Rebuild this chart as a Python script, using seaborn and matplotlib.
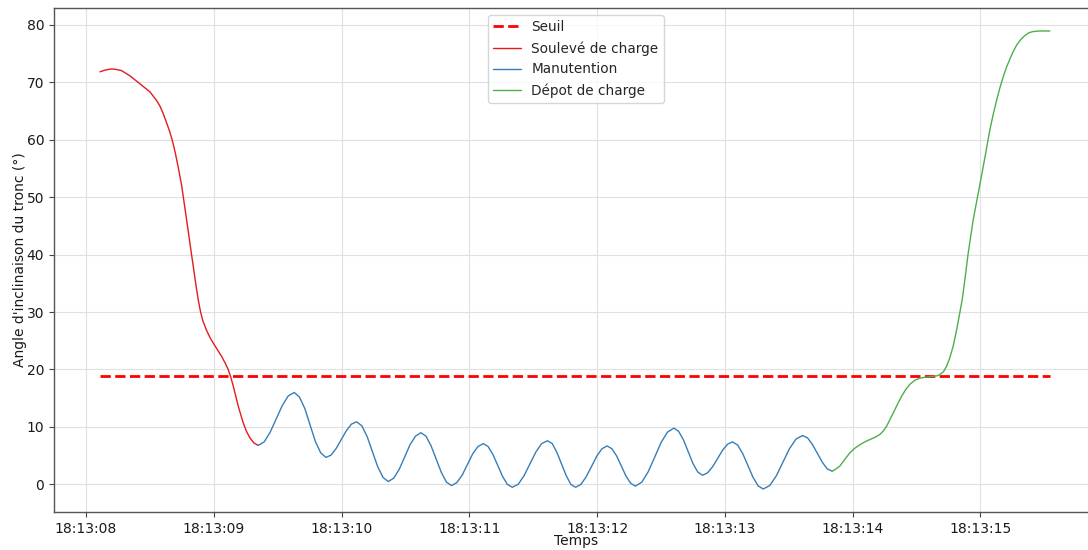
import pandas as pd
import numpy as np
import matplotlib
matplotlib.use("Agg")
import matplotlib.pyplot as plt
import matplotlib.dates as mdates
import seaborn as sns

#%%
# Data (seconds after 18:13:00, angle in degrees)
seuil = 18.8
seuil_t = [8.110, 15.543]

souleve_t = [8.110, 8.150, 8.201, 8.240, 8.279, 8.344, 8.423, 8.501, 8.553, 8.580,
             8.605, 8.630, 8.657, 8.680, 8.700, 8.722, 8.749, 8.775, 8.801, 8.825,
             8.846, 8.862, 8.879, 8.897, 8.916, 8.944, 8.970, 8.996, 9.030, 9.061,
             9.090, 9.113, 9.133, 9.153, 9.172, 9.192, 9.212, 9.231, 9.255, 9.283,
             9.315, 9.348]
souleve_v = [71.8, 72.1, 72.3, 72.2, 72.0, 71.1, 69.7, 68.3, 66.8, 65.8,
             64.5, 63.0, 61.3, 59.5, 57.6, 55.2, 52.0, 48.0, 44.0, 40.2,
             37.0, 34.5, 32.1, 30.0, 28.4, 26.8, 25.6, 24.6, 23.4, 22.3,
             21.1, 20.0, 18.7, 17.1, 15.4, 13.6, 12.1, 10.7, 9.3, 8.1,
             7.2, 6.8]

manut_t = [9.348, 9.395, 9.442, 9.489, 9.536, 9.583,
           9.630, 9.671, 9.713, 9.754, 9.795, 9.837,
           9.878, 9.918, 9.958, 9.998, 10.038, 10.078,
           10.118, 10.159, 10.201, 10.242, 10.283, 10.325,
           10.366, 10.409, 10.451, 10.494, 10.536, 10.579,
           10.621, 10.661, 10.701, 10.741, 10.781, 10.821,
           10.861, 10.902, 10.944, 10.985, 11.026, 11.068,
           11.109, 11.147, 11.185, 11.223, 11.260, 11.298,
           11.336, 11.382, 11.428, 11.474, 11.520, 11.566,
           11.612, 11.649, 11.685, 11.722, 11.759, 11.795,
           11.832, 11.873, 11.914, 11.956, 11.997, 12.038,
           12.079, 12.116, 12.153, 12.190, 12.226, 12.263,
           12.300, 12.350, 12.400, 12.451, 12.501, 12.551,
           12.601, 12.638, 12.676, 12.713, 12.750, 12.788,
           12.825, 12.864, 12.903, 12.943, 12.982, 13.021,
           13.060, 13.100, 13.140, 13.180, 13.220, 13.260,
           13.300, 13.351, 13.403, 13.454, 13.505, 13.557,
           13.608, 13.647, 13.685, 13.724, 13.763, 13.801,
           13.840]
manut_v = [6.8, 7.4, 9.1, 11.4, 13.7, 15.4,
           16.0, 15.2, 13.2, 10.35, 7.5, 5.5,
           4.7, 5.1, 6.25, 7.8, 9.35, 10.5,
           10.9, 10.2, 8.3, 5.7, 3.1, 1.2,
           0.5, 1.1, 2.6, 4.75, 6.9, 8.4,
           9.0, 8.4, 6.7, 4.4, 2.1, 0.4,
           -0.2, 0.3, 1.6, 3.45, 5.3, 6.6,
           7.1, 6.6, 5.2, 3.3, 1.4, 0.0,
           -0.5, 0.0, 1.5, 3.55, 5.6, 7.1,
           7.6, 7.1, 5.6, 3.55, 1.5, 0.0,
           -0.5, 0.0, 1.3, 3.1, 4.9, 6.2,
           6.7, 6.2, 4.95, 3.2, 1.45, 0.2,
           -0.3, 0.4, 2.2, 4.75, 7.3, 9.1,
           9.8, 9.25, 7.75, 5.7, 3.65, 2.15,
           1.6, 2.0, 3.05, 4.5, 5.95, 7.0,
           7.4, 6.85, 5.35, 3.3, 1.25, -0.25,
           -0.8, -0.2, 1.5, 3.85, 6.2, 7.9,
           8.5, 8.1, 6.95, 5.4, 3.85, 2.7,
           2.3]

depot_t = [13.840, 13.870, 13.900, 13.940, 13.978, 14.017, 14.056, 14.095, 14.134, 14.175,
           14.213, 14.240, 14.265, 14.290, 14.317, 14.350, 14.382, 14.415, 14.447, 14.485,
           14.526, 14.580, 14.630, 14.660, 14.682, 14.710, 14.734, 14.760, 14.786, 14.812,
           14.838, 14.859, 14.878, 14.904, 14.943, 14.982, 15.021, 15.048, 15.073, 15.100,
           15.126, 15.152, 15.178, 15.204, 15.230, 15.256, 15.282, 15.315, 15.347, 15.380,
           15.412, 15.460, 15.500, 15.543]
depot_v = [2.3, 2.7, 3.2, 4.4, 5.5, 6.3, 6.9, 7.4, 7.8, 8.2,
           8.7, 9.3, 10.1, 11.2, 12.4, 13.9, 15.3, 16.5, 17.4, 18.1,
           18.5, 18.7, 18.8, 18.9, 19.1, 19.6, 20.5, 22.0, 24.0, 26.7,
           29.8, 32.4, 35.6, 40.2, 46.0, 50.6, 55.2, 58.5, 61.6, 64.4,
           66.8, 69.0, 70.9, 72.6, 74.0, 75.3, 76.4, 77.4, 78.1, 78.6,
           78.8, 78.9, 78.9, 78.9]

#%%
base = pd.Timestamp('2023-01-01 18:13:00')

def to_time(t):
    return base + pd.to_timedelta(np.array(t), unit='s')

df_seuil = pd.DataFrame({'Temps': to_time(seuil_t), 'Angle': [seuil, seuil]})
df_souleve = pd.DataFrame({'Temps': to_time(souleve_t), 'Angle': souleve_v})
df_manut = pd.DataFrame({'Temps': to_time(manut_t), 'Angle': manut_v})
df_depot = pd.DataFrame({'Temps': to_time(depot_t), 'Angle': depot_v})

#%%
sns.set_theme(style='ticks')
plt.rcParams['font.family'] = ['DejaVu Sans']

fig = plt.figure(figsize=(10.88, 5.5), dpi=100)
ax = fig.add_axes([54 / 1088, 1 - 512 / 550, 1044 / 1088, 504 / 550])

sns.lineplot(data=df_seuil, x='Temps', y='Angle', ax=ax, color='red',
             linestyle='--', linewidth=2, label='Seuil')
sns.lineplot(data=df_souleve, x='Temps', y='Angle', ax=ax, color='#e41a1c',
             linewidth=1, label='Soulevé de charge')
sns.lineplot(data=df_manut, x='Temps', y='Angle', ax=ax, color='#377eb8',
             linewidth=1, label='Manutention')
sns.lineplot(data=df_depot, x='Temps', y='Angle', ax=ax, color='#4daf4a',
             linewidth=1, label='Dépot de charge')

ax.set_xlim(to_time([7.75])[0], to_time([15.92])[0])
ax.set_ylim(-4.8, 82.9)
ax.set_yticks(range(0, 81, 10))
ax.xaxis.set_major_locator(mdates.SecondLocator())
ax.xaxis.set_major_formatter(mdates.DateFormatter('%H:%M:%S'))

ax.grid(True, color='#e0e0e0', linewidth=0.8)
ax.tick_params(labelsize=10, length=3.5, width=0.8, color='#444444',
               labelcolor='#1a1a1a')
for s in ax.spines.values():
    s.set_color('#555555')
    s.set_linewidth(1)

ax.set_xlabel('Temps', fontsize=10, labelpad=-1, color='#1a1a1a')
ax.set_ylabel("Angle d'inclinaison du tronc (°)", fontsize=10, labelpad=0,
              color='#1a1a1a')
ax.legend(loc='upper center', fontsize=9.8, frameon=True)

fig.savefig('out.png', dpi=100)
